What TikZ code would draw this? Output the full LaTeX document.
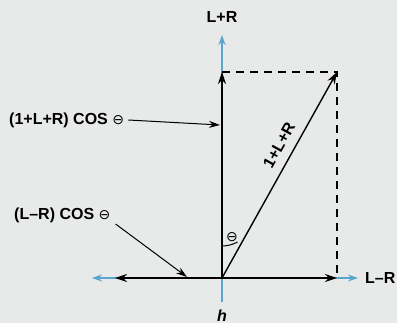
\documentclass[tikz,border=0pt]{standalone}
\usepackage{fontspec}
\setmainfont{Liberation Sans}
\newfontfamily\symf{DejaVu Sans}
\usetikzlibrary{arrows.meta}
\definecolor{bg}{RGB}{232,234,233}
\definecolor{axblue}{RGB}{90,165,205}
\tikzset{
  blk/.style={draw=black,line width=1.4pt,-{Stealth[length=12pt,width=8pt]}},
  blu/.style={draw=axblue,line width=1.4pt,-{Stealth[length=10pt,width=7pt]}},
  lead/.style={draw=black,line width=1pt,-{Stealth[length=11pt,width=7pt]}},
  lbl/.style={font=\bfseries\fontsize{16}{17}\selectfont,inner sep=1pt}
}
\newcommand{\thsym}{{\symf\mdseries\fontsize{14}{15}\selectfont ⊖}}
\begin{document}
\begin{tikzpicture}[x=1pt,y=-1pt]
\fill[bg] (0,0) rectangle (397,323);
\useasboundingbox (0,0) rectangle (397,323);
\coordinate (O) at (222,278);
\coordinate (Tb) at (222,35);
\coordinate (Tk) at (222,72);
\coordinate (Bb) at (222,302);
\coordinate (Lb) at (92,278);
\coordinate (Lk) at (115,278);
\coordinate (Rb) at (358,278);
\coordinate (Rk) at (337,278);
\coordinate (P) at (337,72);
% blue axes
\draw[blu] (O) -- (Tb);
\draw[axblue,line width=1.4pt] (O) -- (Bb);
\draw[blu] (O) -- (Lb);
\draw[blu] (O) -- (Rb);
% dashed rectangle
\draw[line width=1.2pt,dash pattern=on 8pt off 6pt] (Tk) -- (P) -- (Rk);
% black vectors
\draw[blk] (O) -- (Tk);
\draw[blk] (O) -- (Lk);
\draw[blk] (O) -- (Rk);
\draw[blk] (O) -- (P);
% angle
\draw[line width=1pt] (222,246) arc[start angle=90,end angle=61,radius=32];
\node[inner sep=0pt] (th) at (232,237) {\thsym};
% labels
\node[lbl] (lr) at (222,17) {L+R};
\node[lbl,anchor=west] (lmr) at (364,278) {L–R};
\node[lbl] (h) at (222,316) {\itshape h};
\node[lbl,anchor=west] (a1) at (8,120) {(1+L+R) COS \thsym};
\node[lbl,anchor=west] (a2) at (13,215) {(L–R) COS \thsym};
\node[lbl,rotate=61] (diag) at (279,145) {1+L+R};
\draw[lead] (a1.east) ++(3,0) coordinate (s1) -- (220,125);
\draw[lead] (a2.east) ++(4,9) coordinate (s2) -- (187,277);
\end{tikzpicture}
\end{document}
